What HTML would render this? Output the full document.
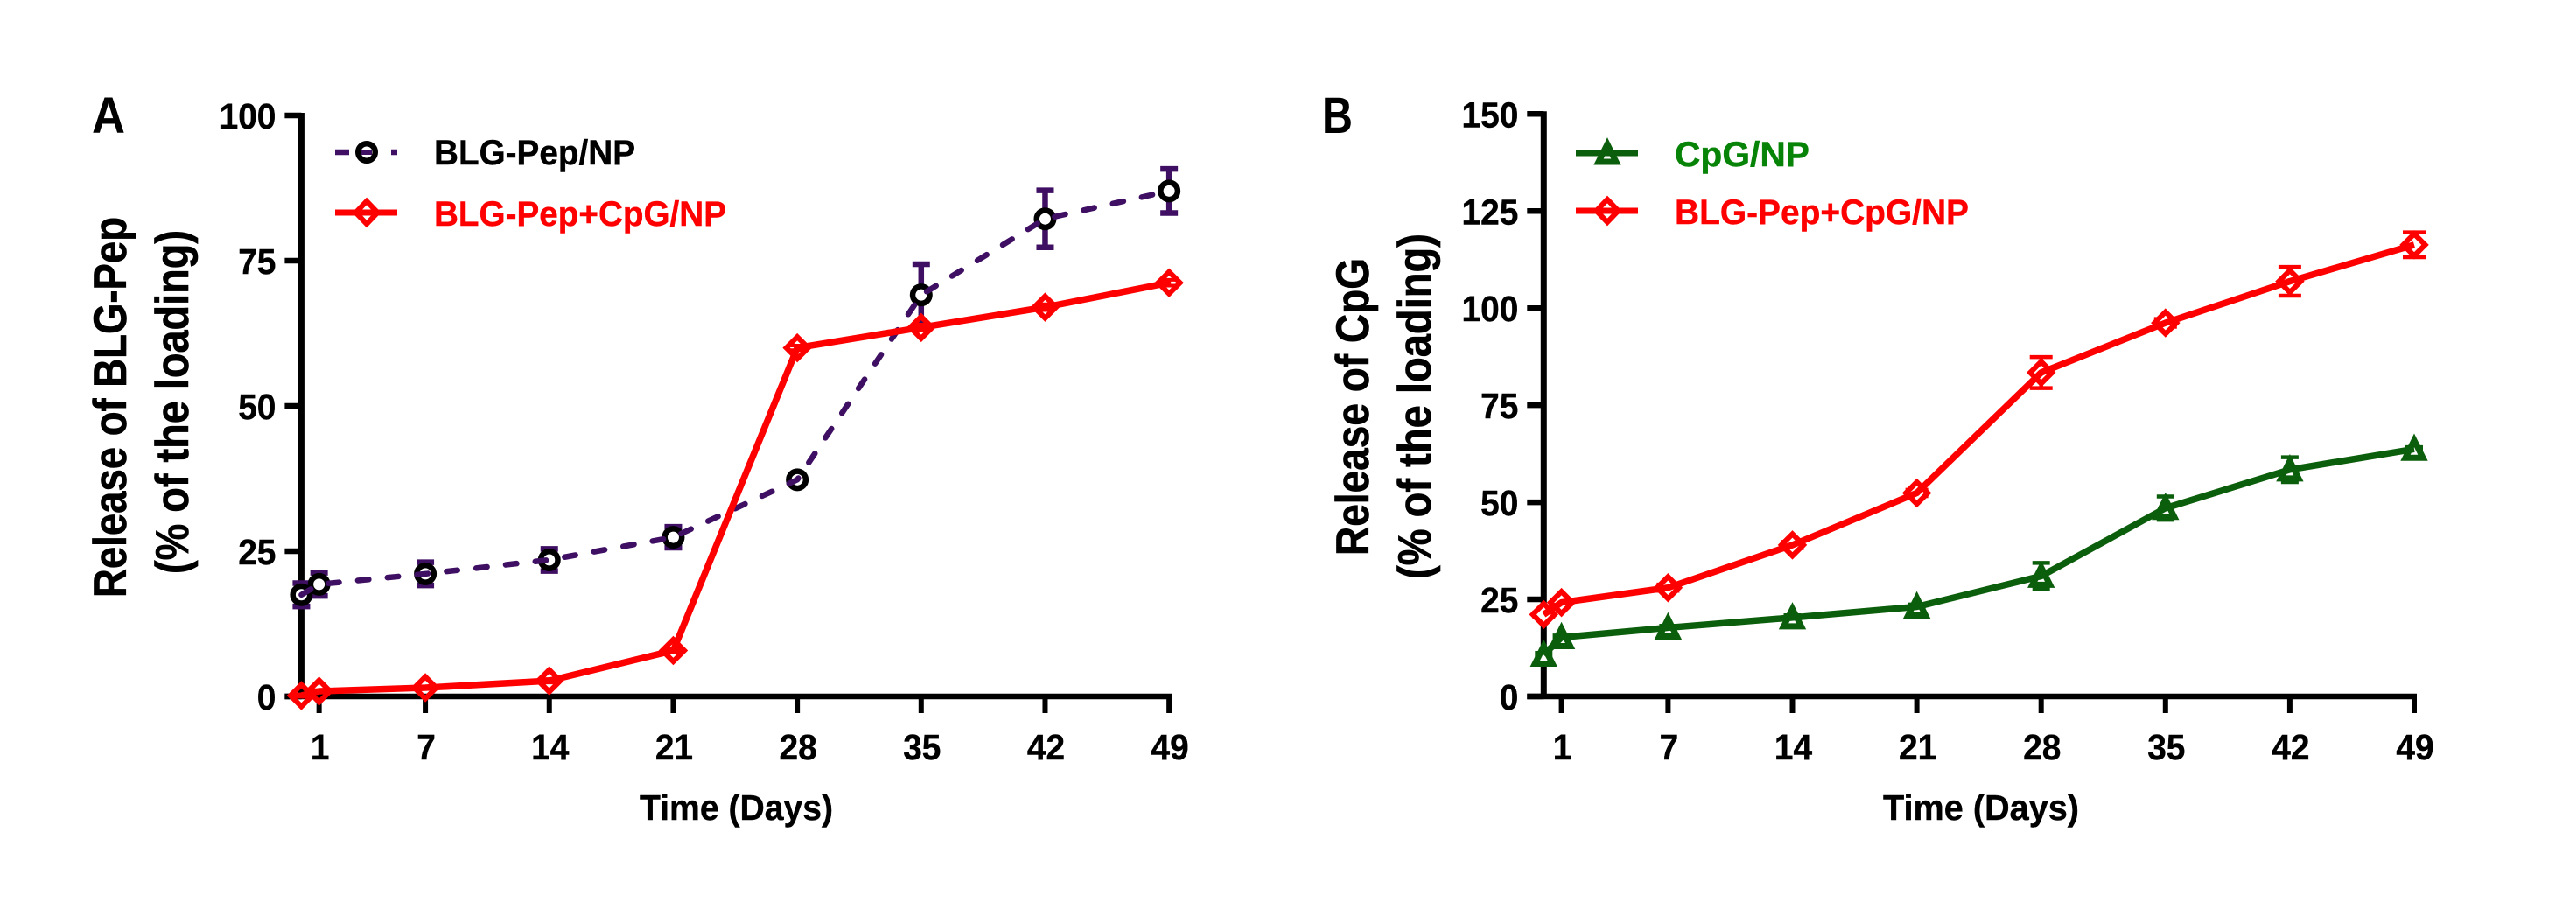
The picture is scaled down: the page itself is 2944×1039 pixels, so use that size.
<!DOCTYPE html>
<html lang="en">
<head>
<meta charset="utf-8">
<title>Release of BLG-Pep and CpG</title>
<style>
html,body{margin:0;padding:0;background:#fff;}
svg{display:block;}
text{font-family:"Liberation Sans",sans-serif;font-weight:700;}
</style>
</head>
<body>
<svg id="figure" xmlns="http://www.w3.org/2000/svg" width="2944" height="1039" viewBox="0 0 2944 1039">
  <rect x="0" y="0" width="2944" height="1039" fill="#fff"/>

  <text x="105" y="152" font-size="58" textLength="38" lengthAdjust="spacingAndGlyphs" fill="#000">A</text>
  <text x="1511" y="152" font-size="58" textLength="35" lengthAdjust="spacingAndGlyphs" fill="#000">B</text>

  <g id="panel-a"></g>
  <g id="panel-b"></g>

  <text transform="translate(144 683) rotate(-90)" font-size="53" textLength="435" lengthAdjust="spacingAndGlyphs" fill="#000" stroke="#000" stroke-width="0.7">Release of BLG-Pep</text>
  <text transform="translate(215 656) rotate(-90)" font-size="53" textLength="393" lengthAdjust="spacingAndGlyphs" fill="#000" stroke="#000" stroke-width="0.7">(% of the loading)</text>
  <text x="731" y="937" font-size="41" textLength="221" lengthAdjust="spacingAndGlyphs" fill="#000" stroke="#000" stroke-width="0.4">Time (Days)</text>

  <text transform="translate(1564 635) rotate(-90)" font-size="53" textLength="340" lengthAdjust="spacingAndGlyphs" fill="#000" stroke="#000" stroke-width="0.7">Release of CpG</text>
  <text transform="translate(1635 662) rotate(-90)" font-size="53" textLength="395" lengthAdjust="spacingAndGlyphs" fill="#000" stroke="#000" stroke-width="0.7">(% of the loading)</text>
  <text x="2152" y="937" font-size="41" textLength="224" lengthAdjust="spacingAndGlyphs" fill="#000" stroke="#000" stroke-width="0.4">Time (Days)</text>

  <g>
    <g>
      <path d="M383 174H399M447 174H454" stroke="#3f0f63" stroke-width="6.5" fill="none"/>
      <circle cx="419" cy="174" r="9.75" fill="#fff" stroke="#000" stroke-width="6.5"/>
      <path d="M413 174H425" stroke="#3f0f63" stroke-width="6" fill="none"/>
      <text x="496" y="188" font-size="40" textLength="230" lengthAdjust="spacingAndGlyphs" fill="#000" stroke="#000" stroke-width="0.4">BLG-Pep/NP</text>
    </g>
    <g>
      <path d="M383 243H454" stroke="#f00" stroke-width="7" fill="none"/>
      <path d="M419 230L431.5 243L419 256L406.5 243Z" fill="none" stroke="#f00" stroke-width="6"/>
      <text x="496" y="258" font-size="40" textLength="334" lengthAdjust="spacingAndGlyphs" fill="#f00" stroke="#f00" stroke-width="0.4">BLG-Pep+CpG/NP</text>
    </g>
  </g>

  <g>
    <g>
      <path d="M1801 175H1872" stroke="#0b5e0b" stroke-width="7" fill="none"/>
      <path d="M1837 165L1847 185H1827Z" fill="none" stroke="#0b5e0b" stroke-width="7"/>
      <text x="1914" y="190" font-size="40" textLength="154" lengthAdjust="spacingAndGlyphs" fill="#078307" stroke="#078307" stroke-width="0.4">CpG/NP</text>
    </g>
    <g>
      <path d="M1801 241H1872" stroke="#f00" stroke-width="7" fill="none"/>
      <path d="M1837 228L1849.5 241L1837 254L1824.5 241Z" fill="none" stroke="#f00" stroke-width="6"/>
      <text x="1914" y="256" font-size="40" textLength="336" lengthAdjust="spacingAndGlyphs" fill="#f00" stroke="#f00" stroke-width="0.4">BLG-Pep+CpG/NP</text>
    </g>
  </g>
</svg>

<script>
/* Shared categories */
const days = [0, 1, 7, 14, 21, 28, 35, 42, 49];
const xTickDays = [1, 7, 14, 21, 28, 35, 42, 49];

/* Panel A */
const yTicksA = [0, 25, 50, 75, 100];
const blgPepA = [17.5, 19.3, 21.1, 23.5, 27.4, 37.3, 69.1, 82.2, 87.0];
const blgPepErrA = [2.0, 2.0, 2.0, 1.9, 1.8, 0.5, 5.3, 4.9, 3.8];
const comboA = [0.15, 0.9, 1.5, 2.7, 7.9, 60.0, 63.5, 67.0, 71.2];
const comboErrA = [0.2, 0.2, 0.2, 0.3, 0.3, 0.4, 0.5, 0.5, 0.5];

/* Panel B */
const yTicksB = [0, 25, 50, 75, 100, 125, 150];
const cpgB = [10.7, 15.2, 17.7, 20.3, 23.1, 31.0, 48.5, 58.4, 63.7];
const cpgErrB = [0.5, 0.5, 0.5, 0.6, 0.6, 3.4, 3.0, 3.2, 0.5];
const comboB = [21.1, 24.2, 28.0, 39.0, 52.4, 83.4, 96.2, 106.9, 116.3];
const comboErrB = [0.5, 0.5, 0.8, 0.8, 0.8, 4.0, 1.0, 3.7, 3.2];

/* Axis functions */
function xA(d) { return 344.4 + d * 20.24; }
function yA(v) { return 796 - v * 6.64; }
function xB(d) { return 1764.3 + d * 20.3; }
function yB(v) { return 796 - v * 4.438; }

const NS = 'http://www.w3.org/2000/svg';

function svgEl(tag, props, parent) {
  const node = document.createElementNS(NS, tag);
  Object.keys(props).forEach(function (k) { node.setAttribute(k, props[k]); });
  parent.appendChild(node);
  return node;
}

function drawAxes(root, prefix, xf, yf, yTicks, yMaxValue) {
  const axisX = xf(0);
  const axisY = yf(0);
  const endX = xf(49);

  const yAxis = svgEl('line', { x1: axisX, x2: axisX, y1: yf(yMaxValue) - 3, y2: axisY + 3, stroke: '#000', 'stroke-width': 7 }, root);
  
  

  const xAxis = svgEl('line', { x1: axisX - 19, x2: endX + 3, y1: axisY, y2: axisY, stroke: '#000', 'stroke-width': 6.5 }, root);
  
  

  yTicks.forEach(function (v) {
    const tick = svgEl('line', { x1: axisX - 19, x2: axisX, y1: yf(v), y2: yf(v), stroke: '#000', 'stroke-width': 6.5 }, root);
    
    

    const yText = String(v);
    const label = svgEl('text', { x: axisX - 29, y: yf(v) + 15, 'font-size': 41, 'text-anchor': 'end', textLength: yText.length * 21.6, lengthAdjust: 'spacingAndGlyphs', fill: '#000', stroke: '#000', 'stroke-width': 0.4 }, root);
    label.textContent = yText;
    
    
  });

  xTickDays.forEach(function (d) {
    const tick = svgEl('line', { x1: xf(d), x2: xf(d), y1: axisY, y2: axisY + 19, stroke: '#000', 'stroke-width': 6 }, root);
    
    

    const xText = String(d);
    const label = svgEl('text', { x: xf(d) + 1, y: 868, 'font-size': 41, 'text-anchor': 'middle', textLength: xText.length * 21.6, lengthAdjust: 'spacingAndGlyphs', fill: '#000', stroke: '#000', 'stroke-width': 0.4 }, root);
    label.textContent = xText;
    
    
  });
}

function drawSeries(root, name, xf, yf, values, errors, opts) {
  const errGroup = svgEl('g', { fill: 'none', stroke: opts.errColor, 'stroke-width': opts.errWidth }, root);
  
  

  const markerGroup = svgEl('g', { fill: opts.markerFill, stroke: opts.markerColor }, root);
  
  

  values.forEach(function (v, i) {
    const x = xf(days[i]);
    const y = yf(v);
    const top = yf(v + errors[i]);
    const bottom = yf(v - errors[i]);
    const half = opts.capWidth / 2;

    const bar = svgEl('path', {
      d: 'M' + (x - half) + ' ' + top + 'H' + (x + half) +
         'M' + x + ' ' + top + 'V' + bottom +
         'M' + (x - half) + ' ' + bottom + 'H' + (x + half)
    }, errGroup);
    
    

    let marker;
    if (opts.marker === 'circle') {
      marker = svgEl('circle', { cx: x, cy: y, r: 9.75, 'stroke-width': 6.5 }, markerGroup);
    } else if (opts.marker === 'diamond') {
      marker = svgEl('path', {
        d: 'M' + x + ' ' + (y - 12.5) + 'L' + (x + 12.5) + ' ' + y + 'L' + x + ' ' + (y + 12.5) + 'L' + (x - 12.5) + ' ' + y + 'Z',
        'stroke-width': 6
      }, markerGroup);
    } else {
      marker = svgEl('path', {
        d: 'M' + x + ' ' + (y - 10) + 'L' + (x + 10) + ' ' + (y + 10) + 'L' + (x - 10) + ' ' + (y + 10) + 'Z',
        'stroke-width': 7
      }, markerGroup);
    }
    
    
  });

  const pts = values.map(function (v, i) { return xf(days[i]) + ',' + yf(v); }).join(' ');
  const line = svgEl('polyline', {
    points: pts,
    fill: 'none',
    stroke: opts.lineColor,
    'stroke-width': opts.lineWidth,
    'stroke-linejoin': 'round'
  }, root);
  if (opts.dash) {
    line.setAttribute('stroke-dasharray', opts.dash);
    line.setAttribute('stroke-linecap', 'round');
  }
  
  
}

const panelA = document.getElementById('panel-a');
const panelB = document.getElementById('panel-b');

drawAxes(panelA, 'panel-a', xA, yA, yTicksA, 100);
drawSeries(panelA, 'blg-pep-np', xA, yA, blgPepA, blgPepErrA, {
  marker: 'circle', markerColor: '#000', markerFill: '#fff',
  lineColor: '#3f0f63', lineWidth: 6.5, dash: '12.5 21.5',
  errColor: '#3f0f63', errWidth: 6.5, capWidth: 20
});
drawSeries(panelA, 'blg-pep-cpg-np-a', xA, yA, comboA, comboErrA, {
  marker: 'diamond', markerColor: '#f00', markerFill: 'none',
  lineColor: '#f00', lineWidth: 7.5, dash: null,
  errColor: '#f00', errWidth: 4, capWidth: 20
});

drawAxes(panelB, 'panel-b', xB, yB, yTicksB, 150);
drawSeries(panelB, 'cpg-np', xB, yB, cpgB, cpgErrB, {
  marker: 'triangle', markerColor: '#0b5e0b', markerFill: '#fff',
  lineColor: '#0b5e0b', lineWidth: 7.5, dash: null,
  errColor: '#0b5e0b', errWidth: 4.5, capWidth: 20
});
drawSeries(panelB, 'blg-pep-cpg-np-b', xB, yB, comboB, comboErrB, {
  marker: 'diamond', markerColor: '#f00', markerFill: '#fff',
  lineColor: '#f00', lineWidth: 7.5, dash: null,
  errColor: '#f00', errWidth: 4.5, capWidth: 26
});
</script>
</body>
</html>
